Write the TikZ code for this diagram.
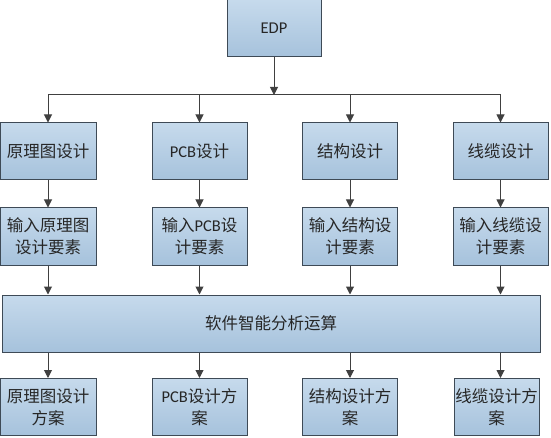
\documentclass[tikz,border=0pt]{standalone}
\usepackage{fontspec}
\setmainfont{Noto Sans CJK SC}
\newfontfamily\latin{Carlito}
\usepackage{tikz}
\usetikzlibrary{arrows.meta,positioning}
\definecolor{boxtop}{HTML}{C6DAEC}
\definecolor{boxbot}{HTML}{A6C2DC}
\definecolor{edge}{HTML}{3E4A56}
\definecolor{ink}{HTML}{404040}
\tikzset{
  box/.style={draw=edge, line width=1pt, top color=boxtop, bottom color=boxbot, align=center,
              inner sep=1pt, minimum width=95pt, minimum height=57pt, text=black!85,
              font=\fontsize{16.5}{22}\selectfont},
  flow/.style={-{Triangle[length=8pt,width=8pt]}, line width=1pt, ink},
  bus/.style={line width=1pt, ink},
}

\begin{document}
\begin{tikzpicture}[x=1pt,y=-1pt,node distance=27pt]
        \useasboundingbox (0,0) rectangle (551,438);
        \node[box, minimum width=94pt] (edp) at (274,28.5) {{\latin EDP}};
        \coordinate (bus) at (274,95);
        % design tasks
        \node[box, minimum width=96pt] (d1) at (48,151.5) {原理图设计};
        \node[box] (d2) at (199.5,151.5) {{\latin PCB}设计};
        \node[box] (d3) at (350,151.5) {结构设计};
        \node[box] (d4) at (500.5,151.5) {线缆设计};
        % design inputs
        \node[box, below=of d1, minimum width=96pt] (in1) {输入原理图\\设计要素};
        \node[box, below=of d2] (in2) {输入{\latin PCB}设\\计要素};
        \node[box, below=of d3] (in3) {输入结构设\\计要素};
        \node[box, below=of d4] (in4) {输入线缆设\\计要素};
        \node[box, minimum width=538pt] (calc) at (271,323.5) {软件智能分析运算};
        % design results
        \node[box, minimum width=96pt] (out1) at (48,407) {原理图设计\\方案};
        \node[box] (out2) at (199.5,407) {{\latin PCB}设计方\\案};
        \node[box] (out3) at (350,407) {结构设计方\\案};
        \node[box, minimum width=85pt] (out4) at (496.5,407) {线缆设计方\\案};
        \draw[flow] (edp) -- (bus); \draw[bus] (d1 |- bus) -- (d4 |- bus);
        \draw[flow] (d1 |- bus) -- (d1); \draw[flow] (d2 |- bus) -- (d2);
        \draw[flow] (d3 |- bus) -- (d3); \draw[flow] (d4 |- bus) -- (d4);
        \draw[flow] (d1) -- (in1); \draw[flow] (d2) -- (in2); \draw[flow] (d3) -- (in3); \draw[flow] (d4) -- (in4);
        \draw[flow] (in1) -- (in1 |- calc.north); \draw[flow] (in2) -- (in2 |- calc.north);
        \draw[flow] (in3) -- (in3 |- calc.north); \draw[flow] (in4) -- (in4 |- calc.north);
        \draw[flow] (in1 |- calc.south) -- (in1 |- out1.north); \draw[flow] (in2 |- calc.south) -- (in2 |- out2.north);
        \draw[flow] (in3 |- calc.south) -- (in3 |- out3.north); \draw[flow] (in4 |- calc.south) -- (in4 |- out4.north);
      \end{tikzpicture}
\end{document}
